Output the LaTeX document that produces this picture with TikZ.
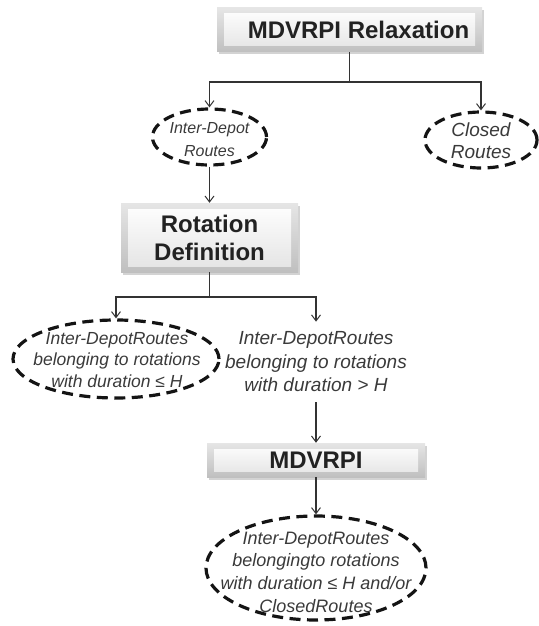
\documentclass[tikz,border=0pt]{standalone}
\usepackage{fontspec}
\setmainfont{Liberation Sans}
\usetikzlibrary{arrows.meta,shapes.geometric,shadows}
\definecolor{boxtxt}{HTML}{222222}
\definecolor{eltxt}{HTML}{3A3A3A}
\definecolor{wirec}{HTML}{333333}
\tikzset{
  bevelbox/.style={draw=none, inner sep=0pt, text=boxtxt, align=center,
    font=\fontsize{24}{28}\selectfont\bfseries,
    top color=gray!20, bottom color=gray!50,
    drop shadow={opacity=0.35, shadow xshift=1.5pt, shadow yshift=-2.5pt},
    path picture={\fill[top color=white, bottom color=gray!22]
      ([shift={(7pt,6pt)}]path picture bounding box.south west) rectangle
      ([shift={(-7pt,-6pt)}]path picture bounding box.north east);}},
  dellipse/.style={ellipse, draw=black!92, line width=3.2pt, dash pattern=on 11pt off 6.5pt, inner sep=0pt},
  etext/.style={text=eltxt, align=center, inner sep=0pt, font=\itshape},
  wire/.style={draw=wirec, line width=1.1pt},
  arr/.style={wire, -{Straight Barb[length=6pt,width=9pt,line width=1pt]}}
}
\begin{document}
\begin{tikzpicture}[x=1pt,y=-1pt]
\useasboundingbox (0,0) rectangle (538,626);

% boxes
\node[bevelbox, minimum width=265pt, minimum height=44pt] (relax) at (349.5,30) {\hspace*{18pt}MDVRPI Relaxation};
\node[bevelbox, minimum width=177pt, minimum height=69pt] (rot) at (209.5,237.5) {Rotation\\Definition};
\node[bevelbox, minimum width=218pt, minimum height=34pt] (mdv) at (316,460) {MDVRPI};

% ellipses
\node[dellipse, minimum width=114pt, minimum height=56pt] (idr) at (209.5,137) {};
\node[etext, font=\fontsize{16}{23}\selectfont\itshape] (idrt) at (209.5,140) {Inter-Depot\\Routes};

\node[dellipse, minimum width=112pt, minimum height=56pt] (closed) at (481,140) {};
\node[etext, font=\fontsize{19}{22}\selectfont\itshape] (closedt) at (481,141) {Closed\\Routes};

\node[dellipse, minimum width=206pt, minimum height=78pt] (left) at (116,359) {};
\node[etext, font=\fontsize{17.5}{21.5}\selectfont\itshape] (leftt) at (117,360) {Inter-DepotRoutes\\belonging to rotations\\with duration ≤ H};

\node[etext, inner sep=10pt, font=\fontsize{19}{23.5}\selectfont\itshape] (right) at (316,362) {Inter-DepotRoutes\\belonging to rotations\\with duration > H};

\node[dellipse, minimum width=220pt, minimum height=104pt] (final) at (316,568) {};
\node[etext, font=\fontsize{18}{22.7}\selectfont\itshape] (finalt) at (316,572) {Inter-DepotRoutes\\belongingto rotations\\with duration ≤ H and/or\\ClosedRoutes};

% connectors
\coordinate (bus1) at (0,82);
\coordinate (bus2) at (0,297);
\draw[wire] (relax.south) -- (relax.south |- bus1);
\draw[arr] (relax.south |- bus1) -| (idr.north);
\draw[arr] (relax.south |- bus1) -| (closed.north);
\draw[arr] (idr.south) -- (rot.north);
\draw[wire] (rot.south) -- (rot.south |- bus2);
\draw[arr] (rot.south |- bus2) -| (left.north);
\draw[arr] (rot.south |- bus2) -| (right.north);
\draw[arr] (right.south) -- (mdv.north);
\draw[arr] (mdv.south) -- (final.north);
\end{tikzpicture}
\end{document}
